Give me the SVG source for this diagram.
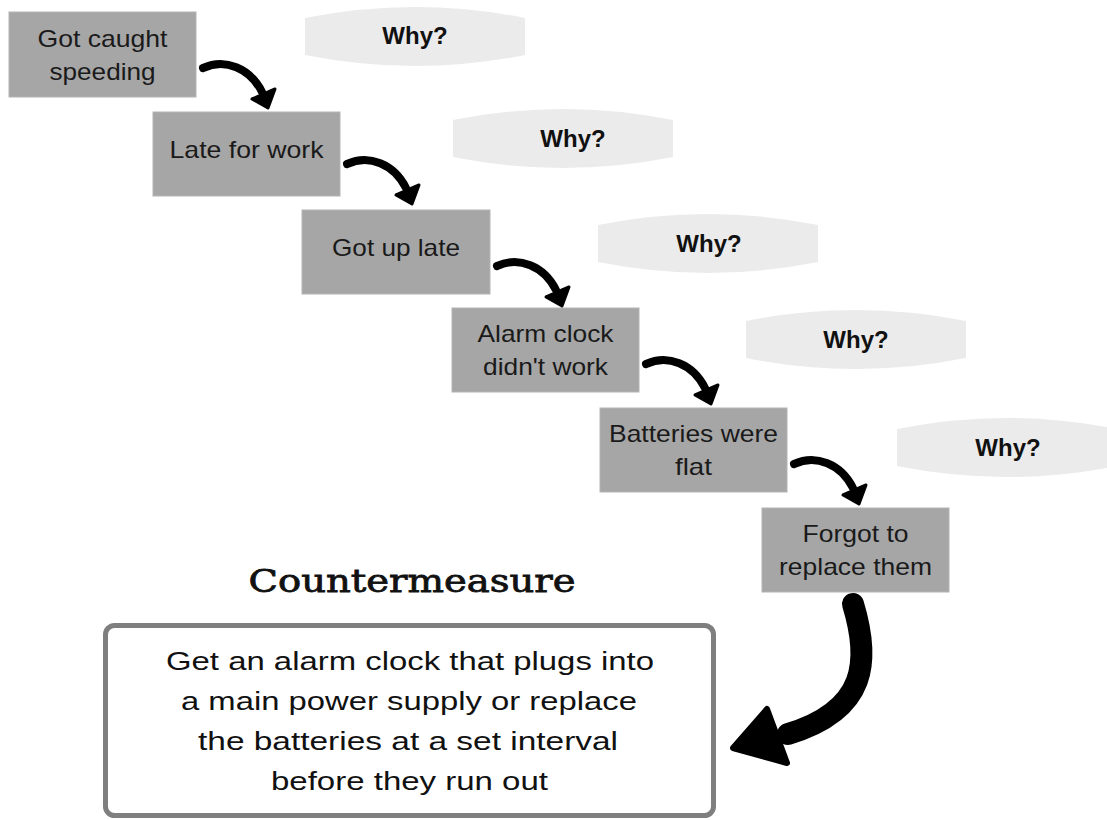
<svg xmlns="http://www.w3.org/2000/svg" width="1107" height="820" viewBox="0 0 1107 820">
<defs>
<style>
.box{fill:#a6a6a6;stroke:#b4b4b4;stroke-width:1}
.bt{font-family:"Liberation Sans",Arial,sans-serif;font-size:24px;fill:#1a1a1a;text-anchor:middle}
.why{fill:#ebebeb}
.wt{font-family:"Liberation Sans",Arial,sans-serif;font-size:24px;font-weight:bold;fill:#111;text-anchor:middle}
.shaft{fill:none;stroke:#000;stroke-width:8;stroke-linecap:round}
.head{fill:#000;stroke:#000;stroke-width:3;stroke-linejoin:round}
.ct{font-family:"Liberation Sans",Arial,sans-serif;font-size:26px;fill:#111;text-anchor:middle}
</style>
<g id="smallArrow">
<path class="shaft" d="M0,0 C22,-10 47,0 59,24"/>
<polygon class="head" points="65,40 49,31 72,21"/>
</g>
<path id="whyShape" class="why" d="M0,0 Q110,-22 220,0 L220,37 Q110,59 0,37 Z"/>
</defs>
<rect width="1107" height="820" fill="#ffffff"/>

<g id="why1"><use href="#whyShape" x="305" y="18"/><text class="wt" x="415" y="44">Why?</text></g>
<g id="why2"><use href="#whyShape" x="453" y="120"/><text class="wt" x="573" y="147">Why?</text></g>
<g id="why3"><use href="#whyShape" x="598" y="225"/><text class="wt" x="709" y="252">Why?</text></g>
<g id="why4"><use href="#whyShape" x="746" y="321"/><text class="wt" x="856" y="348">Why?</text></g>
<g id="why5"><use href="#whyShape" x="897" y="429"/><text class="wt" x="1008" y="456">Why?</text></g>

<g id="node1"><rect class="box" x="9" y="12" width="187" height="85"/>
<text class="bt" x="102.5" y="46.5" textLength="130" lengthAdjust="spacingAndGlyphs">Got caught</text>
<text class="bt" x="102.5" y="79.5" textLength="106" lengthAdjust="spacingAndGlyphs">speeding</text></g>
<g id="node2"><rect class="box" x="153" y="112" width="187" height="84"/>
<text class="bt" x="246.5" y="158" textLength="154" lengthAdjust="spacingAndGlyphs">Late for work</text></g>
<g id="node3"><rect class="box" x="302" y="210" width="188" height="84"/>
<text class="bt" x="396" y="256" textLength="128" lengthAdjust="spacingAndGlyphs">Got up late</text></g>
<g id="node4"><rect class="box" x="452" y="308" width="187" height="84"/>
<text class="bt" x="545.5" y="342" textLength="136" lengthAdjust="spacingAndGlyphs">Alarm clock</text>
<text class="bt" x="545.5" y="375" textLength="125" lengthAdjust="spacingAndGlyphs">didn't work</text></g>
<g id="node5"><rect class="box" x="600" y="408" width="187" height="84"/>
<text class="bt" x="693.5" y="442" textLength="169" lengthAdjust="spacingAndGlyphs">Batteries were</text>
<text class="bt" x="693.5" y="475" textLength="37" lengthAdjust="spacingAndGlyphs">flat</text></g>
<g id="node6"><rect class="box" x="762" y="508" width="187" height="84"/>
<text class="bt" x="855.5" y="542" textLength="106" lengthAdjust="spacingAndGlyphs">Forgot to</text>
<text class="bt" x="855.5" y="575" textLength="153" lengthAdjust="spacingAndGlyphs">replace them</text></g>

<g id="title"><text x="412" y="592" font-family="'DejaVu Serif','Liberation Serif',serif" font-size="32" fill="#111" stroke="#111" stroke-width="0.8" text-anchor="middle" textLength="327" lengthAdjust="spacingAndGlyphs">Countermeasure</text></g>

<g id="countermeasure">
<rect x="105.5" y="625.5" width="608" height="190" rx="9" fill="#fff" stroke="#7f7f7f" stroke-width="5"/>
<text class="ct" x="410" y="670" textLength="488" lengthAdjust="spacingAndGlyphs">Get an alarm clock that plugs into</text>
<text class="ct" x="409" y="710" textLength="456" lengthAdjust="spacingAndGlyphs">a main power supply or replace</text>
<text class="ct" x="408" y="750" textLength="420" lengthAdjust="spacingAndGlyphs">the batteries at a set interval</text>
<text class="ct" x="409.5" y="790" textLength="277" lengthAdjust="spacingAndGlyphs">before they run out</text>
</g>

<g id="connectors">
<use href="#smallArrow" x="203" y="68"/>
<use href="#smallArrow" x="347" y="164"/>
<use href="#smallArrow" x="497" y="266"/>
<use href="#smallArrow" x="646" y="364"/>
<use href="#smallArrow" x="794" y="464"/>
<path d="M853,604 C870,660 868,710 788,734" fill="none" stroke="#000" stroke-width="22" stroke-linecap="round"/>
<polygon points="733,748 767,709 787,763" fill="#000" stroke="#000" stroke-width="6" stroke-linejoin="round"/>
</g>
</svg>
